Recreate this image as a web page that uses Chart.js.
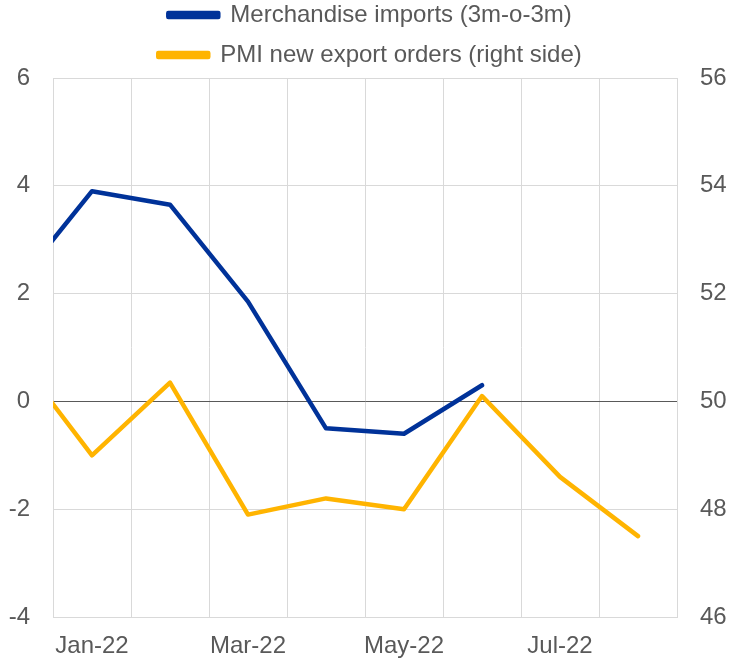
<!DOCTYPE html>
<html>
<head>
<meta charset="utf-8">
<script src="https://cdn.jsdelivr.net/npm/chart.js@4/dist/chart.umd.min.js"></script>
<style>
  html, body { margin: 0; padding: 0; background: #fff; }
  #wrap { width: 740px; height: 660px; }
</style>
</head>
<body>
<div id="wrap"><canvas id="chart"></canvas></div>
<script>
// 月份（Dec-21 只用于画出左侧被截断的线段）
const months = ['Dec-21', 'Jan-22', 'Feb-22', 'Mar-22', 'Apr-22', 'May-22', 'Jun-22', 'Jul-22', 'Aug-22'];
const shownMonths = ['Jan-22', 'Mar-22', 'May-22', 'Jul-22'];

// 数据
const importsValues = [2.1, 3.9, 3.65, 1.85, -0.5, -0.6, 0.3, null, null];
const pmiValues = [50.9, 49.0, 50.35, 47.9, 48.2, 48.0, 50.1, 48.6, 47.5];

const seriesNames = ['Merchandise imports (3m-o-3m)', 'PMI new export orders (right side)'];
const blue = '#003299';
const yellow = '#FFB400';
const textColor = '#595959';
const gridColor = '#d9d9d9';
const fontFamily = '"Liberation Sans", Arial, sans-serif';

// 固定图例高度
const legendHeightPlugin = {
    id: 'legendHeight',
    afterInit(chart) {
        const legend = chart.legend;
        const fit = legend.fit;
        legend.fit = function () {
            fit.call(legend);
            legend.height = 91;
        };
    }
};

const ctx = document.getElementById('chart').getContext('2d');
new Chart(ctx, {
    type: 'line',
    data: {
        labels: months,
        datasets: [{
            label: seriesNames[0],
            data: importsValues,
            borderColor: blue,
            backgroundColor: blue,
            borderWidth: 4.5,
            borderCapStyle: 'round',
            borderJoinStyle: 'round',
            pointRadius: 0,
            tension: 0,
            clip: 0,
            yAxisID: 'y'
        }, {
            label: seriesNames[1],
            data: pmiValues,
            borderColor: yellow,
            backgroundColor: yellow,
            borderWidth: 4.5,
            borderCapStyle: 'round',
            borderJoinStyle: 'round',
            pointRadius: 0,
            tension: 0,
            clip: 0,
            yAxisID: 'y2'
        }]
    },
    options: {
        responsive: true,
        maintainAspectRatio: false,
        animation: false,
        layout: {
            padding: { top: -13, left: 0, right: 0, bottom: 0 }
        },
        plugins: {
            legend: {
                position: 'top',
                labels: {
                    color: textColor,
                    font: { family: fontFamily, size: 24 },
                    boxWidth: 50,
                    boxHeight: 4,
                    padding: 16
                }
            },
            tooltip: { enabled: false }
        },
        scales: {
            x: {
                type: 'category',
                min: 'Jan-22',
                offset: true,
                grid: {
                    offset: true,
                    color: gridColor,
                    drawTicks: false
                },
                border: { color: gridColor },
                ticks: {
                    autoSkip: false,
                    maxRotation: 0,
                    padding: 15,
                    color: textColor,
                    font: { family: fontFamily, size: 24 },
                    callback: function (value) {
                        const label = this.getLabelForValue(value);
                        return shownMonths.includes(label) ? label : '';
                    }
                },
                afterFit(scale) { scale.height = 43; }
            },
            y: {
                position: 'left',
                min: -4,
                max: 6,
                ticks: {
                    stepSize: 2,
                    padding: 23,
                    color: textColor,
                    font: { family: fontFamily, size: 24 }
                },
                grid: {
                    drawTicks: false,
                    color: c => c.tick && c.tick.value === 0 ? '#595959' : gridColor
                },
                border: { color: gridColor },
                afterFit(scale) { scale.width = 53; }
            },
            y2: {
                position: 'right',
                min: 46,
                max: 56,
                ticks: {
                    stepSize: 2,
                    padding: 23,
                    color: textColor,
                    font: { family: fontFamily, size: 24 }
                },
                grid: { display: false, drawTicks: false },
                border: { color: gridColor },
                afterFit(scale) { scale.width = 63; }
            }
        }
    },
    plugins: [legendHeightPlugin]
});
</script>
</body>
</html>
